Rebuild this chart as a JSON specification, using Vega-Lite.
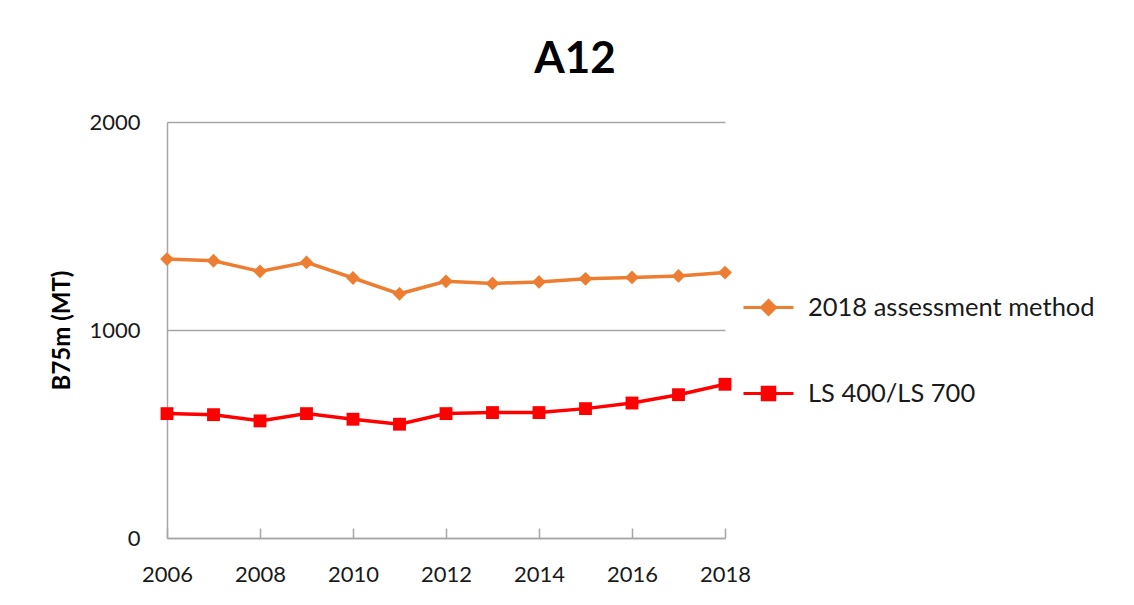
{
  "$schema": "https://vega.github.io/schema/vega-lite/v6.json",
  "width": 558,
  "height": 416,
  "autosize": {"type": "none"},
  "padding": {"left": 167, "top": 122, "right": 409, "bottom": 67},
  "background": "white",
  "title": {
    "text": "A12",
    "anchor": "middle",
    "frame": "group",
    "dx": 129,
    "dy": 55,
    "offset": 49,
    "baseline": "alphabetic",
    "font": "Lato",
    "fontSize": 44,
    "fontWeight": "bold",
    "color": "#000000"
  },
  "data": {
    "values": [
      {"year": 2006, "series": "2018 assessment method", "value": 1341},
      {"year": 2007, "series": "2018 assessment method", "value": 1333},
      {"year": 2008, "series": "2018 assessment method", "value": 1282},
      {"year": 2009, "series": "2018 assessment method", "value": 1325},
      {"year": 2010, "series": "2018 assessment method", "value": 1250},
      {"year": 2011, "series": "2018 assessment method", "value": 1174},
      {"year": 2012, "series": "2018 assessment method", "value": 1234},
      {"year": 2013, "series": "2018 assessment method", "value": 1224},
      {"year": 2014, "series": "2018 assessment method", "value": 1231},
      {"year": 2015, "series": "2018 assessment method", "value": 1246},
      {"year": 2016, "series": "2018 assessment method", "value": 1253},
      {"year": 2017, "series": "2018 assessment method", "value": 1260},
      {"year": 2018, "series": "2018 assessment method", "value": 1276},
      {"year": 2006, "series": "LS 400/LS 700", "value": 598},
      {"year": 2007, "series": "LS 400/LS 700", "value": 593},
      {"year": 2008, "series": "LS 400/LS 700", "value": 563},
      {"year": 2009, "series": "LS 400/LS 700", "value": 598},
      {"year": 2010, "series": "LS 400/LS 700", "value": 571},
      {"year": 2011, "series": "LS 400/LS 700", "value": 547},
      {"year": 2012, "series": "LS 400/LS 700", "value": 598},
      {"year": 2013, "series": "LS 400/LS 700", "value": 603},
      {"year": 2014, "series": "LS 400/LS 700", "value": 603},
      {"year": 2015, "series": "LS 400/LS 700", "value": 622},
      {"year": 2016, "series": "LS 400/LS 700", "value": 649},
      {"year": 2017, "series": "LS 400/LS 700", "value": 689},
      {"year": 2018, "series": "LS 400/LS 700", "value": 739}
    ]
  },
  "encoding": {
    "x": {
      "field": "year",
      "type": "quantitative",
      "scale": {"domain": [2006, 2018], "nice": false, "zero": false},
      "axis": {
        "title": null,
        "values": [2006, 2008, 2010, 2012, 2014, 2016, 2018],
        "format": "d",
        "grid": false,
        "domainColor": "#A6A6A6",
        "domainWidth": 1.5,
        "tickColor": "#A6A6A6",
        "tickWidth": 1.5,
        "tickSize": -10,
        "labelPadding": 36,
        "labelFont": "Lato",
        "labelFontSize": 22,
        "labelColor": "#1a1a1a",
        "labelFlush": false
      }
    },
    "y": {
      "field": "value",
      "type": "quantitative",
      "scale": {"domain": [0, 2000], "nice": false},
      "axis": {
        "title": "B75m (MT)",
        "values": [0, 1000, 2000],
        "format": "d",
        "grid": true,
        "gridColor": "#A6A6A6",
        "gridWidth": 1.5,
        "domainColor": "#A6A6A6",
        "domainWidth": 1.5,
        "ticks": false,
        "labelPadding": 27,
        "labelFont": "Lato",
        "labelFontSize": 22,
        "labelColor": "#1a1a1a",
        "titleFont": "Lato",
        "titleFontSize": 24,
        "titleFontWeight": "bold",
        "titleColor": "#000000",
        "titlePadding": 14
      }
    },
    "color": {
      "field": "series",
      "type": "nominal",
      "scale": {
        "domain": ["2018 assessment method", "LS 400/LS 700"],
        "range": ["#ED7D31", "#FF0000"]
      },
      "legend": {
        "title": null,
        "orient": "none",
        "legendX": 575,
        "legendY": 159,
        "padding": 0,
        "rowPadding": 46,
        "symbolSize": 2500,
        "symbolStrokeWidth": 3,
        "labelOffset": 13,
        "labelFont": "Lato",
        "labelFontSize": 25.5,
        "labelColor": "#1a1a1a",
        "labelLimit": 400,
        "encode": {
          "symbols": {
            "update": {
              "shape": {"signal": "datum.value === '2018 assessment method' ? 'M-1,0H1M0,-0.28L0.28,0L0,0.28L-0.28,0Z' : 'M-1,0H1M-0.25,-0.25H0.25V0.25H-0.25Z'"},
              "size": {"value": 2500},
              "fill": {"signal": "datum.value === '2018 assessment method' ? '#ED7D31' : '#FF0000'"},
              "stroke": {"signal": "datum.value === '2018 assessment method' ? '#ED7D31' : '#FF0000'"},
              "strokeWidth": {"value": 3},
              "opacity": {"value": 1},
              "fillOpacity": {"value": 1}
            }
          }
        }
      }
    }
  },
  "layer": [
    {
      "mark": {"type": "line", "strokeWidth": 3.5}
    },
    {
      "transform": [{"filter": "datum.series === '2018 assessment method'"}],
      "mark": {"type": "point", "filled": true, "opacity": 1, "shape": "diamond", "size": 190}
    },
    {
      "transform": [{"filter": "datum.series === 'LS 400/LS 700'"}],
      "mark": {"type": "point", "filled": true, "opacity": 1, "shape": "square", "size": 165}
    }
  ],
  "config": {
    "view": {"stroke": null}
  }
}
